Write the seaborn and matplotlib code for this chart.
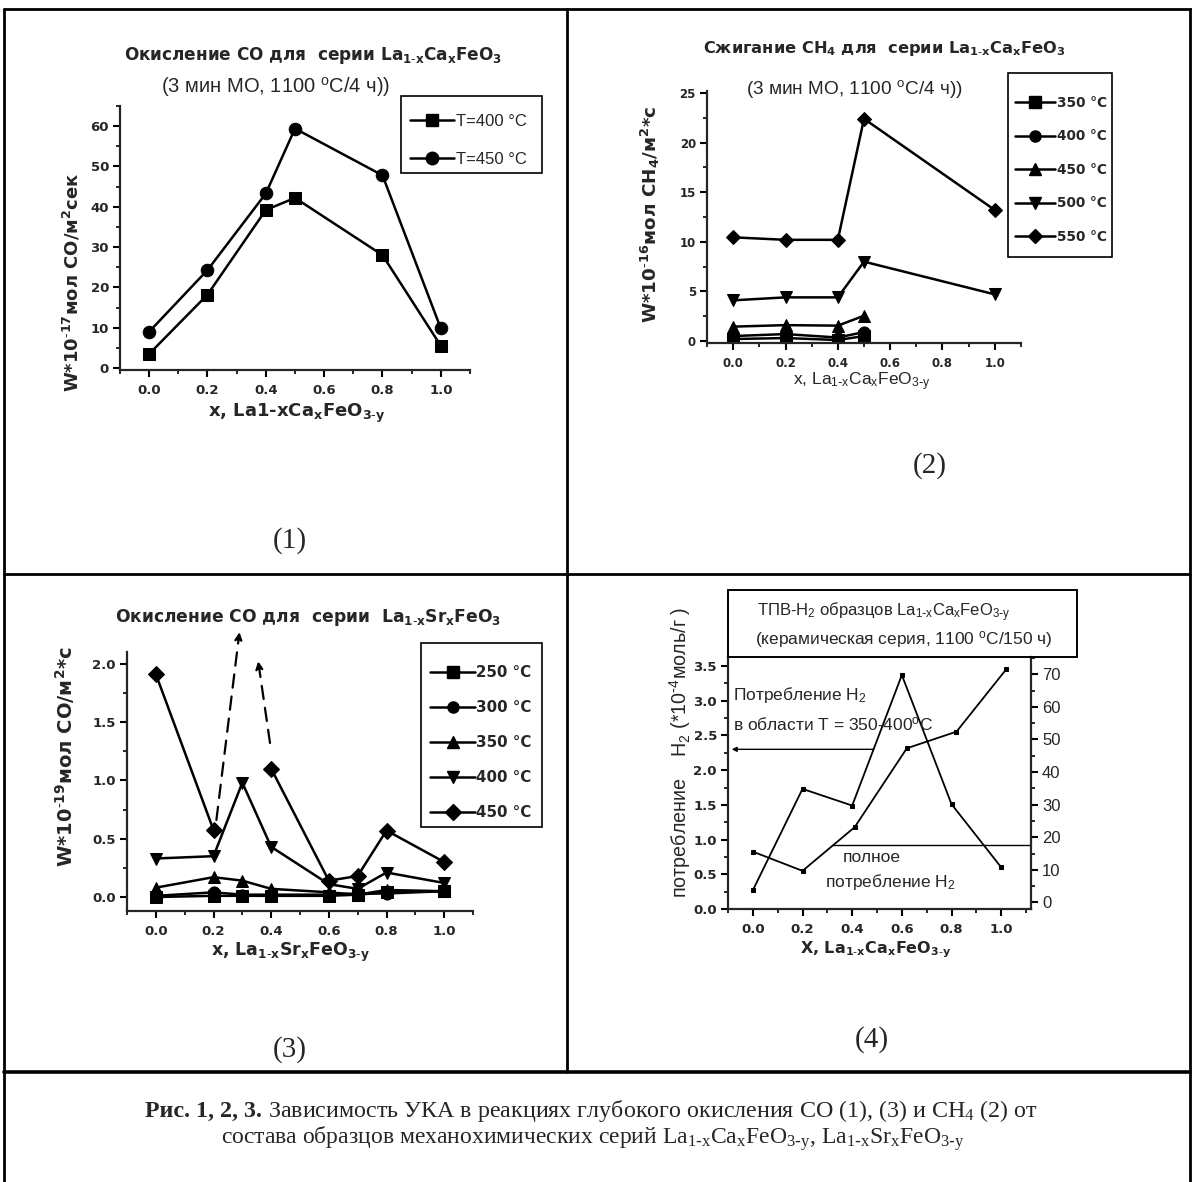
import numpy as np
import pandas as pd
import seaborn as sns
import matplotlib
matplotlib.use("Agg")
import matplotlib.pyplot as plt
from matplotlib.lines import Line2D
from matplotlib.patches import Rectangle
from matplotlib.ticker import MultipleLocator

# ---------------- data ----------------
p1_x = [0.0, 0.2, 0.4, 0.5, 0.8, 1.0]
p1_t400 = [3.5, 18.2, 39.2, 42.2, 28.0, 5.5]
p1_t450 = [9.0, 24.3, 43.3, 59.4, 47.8, 9.8]
p1_labels = ["T=400 °C", "T=450 °C"]

p2_x_short = [0.0, 0.2, 0.4, 0.5]
p2_x_full = [0.0, 0.2, 0.4, 0.5, 1.0]
p2_350 = [0.2, 0.3, 0.1, 0.5]
p2_400 = [0.5, 0.7, 0.35, 0.9]
p2_450 = [1.45, 1.6, 1.55, 2.55]
p2_500 = [4.1, 4.4, 4.4, 8.0, 4.7]
p2_550 = [10.45, 10.2, 10.2, 22.4, 13.2]
p2_labels = ["350 °C", "400 °C", "450 °C", "500 °C", "550 °C"]

p3_x = [0.0, 0.2, 0.3, 0.4, 0.6, 0.7, 0.8, 1.0]
p3_250 = [0.0, 0.01, 0.01, 0.01, 0.01, 0.02, 0.04, 0.05]
p3_300 = [0.01, 0.04, 0.02, 0.02, 0.02, 0.03, 0.03, 0.05]
p3_350 = [0.08, 0.17, 0.14, 0.07, 0.04, 0.02, 0.06, 0.05]
p3_400 = [0.33, 0.35, 0.98, 0.43, 0.11, 0.07, 0.21, 0.12]
p3_450_xa = [0.0, 0.2]
p3_450_a = [1.91, 0.575]
p3_450_xb = [0.4, 0.6, 0.7, 0.8, 1.0]
p3_450_b = [1.10, 0.14, 0.18, 0.57, 0.30]
p3_labels = ["250 °C", "300 °C", "350 °C", "400 °C", "450 °C"]
# off-scale dashed guides (start -> end)
p3_guide1 = [(0.21, 0.66), (0.29, 2.27)]
p3_guide2 = [(0.396, 1.32), (0.355, 2.02)]

p4_x = [0.0, 0.2, 0.4, 0.6, 0.8, 1.0]
p4_low = [0.27, 1.73, 1.49, 3.37, 1.51, 0.60]
p4_full_x = [0.0, 0.2, 0.41, 0.62, 0.82, 1.02]
p4_full = [15.6, 9.7, 23.1, 47.3, 52.4, 71.5]

# ---------------- setup ----------------
sns.set_theme(style="ticks")
plt.rcParams["font.family"] = ["Liberation Sans", "DejaVu Sans"]
plt.rcParams["mathtext.default"] = "regular"
plt.rcParams["axes.linewidth"] = 1.6

BOLD = ["DejaVu Sans"]
NARROW = ["Liberation Sans Narrow", "Liberation Sans", "DejaVu Sans"]
SERIF = ["Liberation Serif", "DejaVu Serif"]
SUB1X = r"$_{1\text{-}x}$"
SUB3Y = r"$_{3\text{-}y}$"


def pow10(n):
    return r"10$^{\text{-}" + str(n) + "}$"


W, H = 1192, 1182
fig = plt.figure(figsize=(W / 100, H / 100), dpi=100)
fig.patch.set_facecolor("white")


def fx(px):
    return px / W


def fy(py):
    return 1 - py / H


def add_ax(x0, y0, x1, y1):
    return fig.add_axes([fx(x0), fy(y1), (x1 - x0) / W, (y1 - y0) / H])


def ftext(x, y, s, **kw):
    kw.setdefault("ha", "center")
    kw.setdefault("va", "center")
    return fig.text(fx(x), fy(y), s, **kw)


def fbox(x0, y0, x1, y1, lw=1.2):
    fig.add_artist(Rectangle((fx(x0), fy(y1)), fx(x1) - fx(x0),
                             fy(y0) - fy(y1), transform=fig.transFigure,
                             fill=False, edgecolor="black", lw=lw))


def style(ax, xmaj, xmin, ymaj, ymin, tsize=9.5):
    ax.set_facecolor("none")
    for s in ["top", "right"]:
        ax.spines[s].set_visible(False)
    ax.xaxis.set_major_locator(MultipleLocator(xmaj))
    ax.xaxis.set_minor_locator(MultipleLocator(xmin))
    ax.yaxis.set_major_locator(MultipleLocator(ymaj))
    ax.yaxis.set_minor_locator(MultipleLocator(ymin))
    ax.tick_params(which="major", direction="out", length=5, width=1.5,
                   labelsize=tsize, pad=3, color="black")
    ax.tick_params(which="minor", direction="out", length=3, width=1.2,
                   color="black")
    ax.tick_params(axis="x", which="major", pad=5)
    for lab in ax.get_xticklabels() + ax.get_yticklabels():
        lab.set_fontweight("bold")
        lab.set_family(BOLD)
    ax.set_xlabel("")
    ax.set_ylabel("")


def line(ax, x, y, marker, ms, lw=1.8):
    sns.lineplot(x=x, y=y, ax=ax, color="black", marker=marker, markersize=ms,
                 markeredgecolor="black", markerfacecolor="black", lw=lw,
                 legend=False)


def handle(marker, ms):
    return Line2D([], [], color="black", marker=marker, markersize=ms, lw=1.8)


def legend(ax, handles, labels, x, y, prop, hl, ls):
    ax.legend(handles, labels, loc="upper left",
              bbox_to_anchor=(fx(x), fy(y)), bbox_transform=fig.transFigure,
              frameon=False, handlelength=hl, labelspacing=ls, borderpad=0,
              handletextpad=0.1, borderaxespad=0, prop=prop)


def fline(x0, y0, x1, y1, lw=2.0):
    fig.add_artist(Line2D([fx(x0), fx(x1)], [fy(y0), fy(y1)],
                          transform=fig.transFigure, color="black", lw=lw))


# ---------------- frame lines ----------------
fline(4, 9, 1191, 9)
fline(4, 9, 4, 1182)
fline(1190, 9, 1190, 1182)
fline(567, 9, 567, 1072)
fline(4, 574, 1190, 574)
fline(4, 1072, 1190, 1072, lw=2.6)

# ---------------- panel 1 ----------------
ax1 = add_ax(120, 106, 470, 370)
line(ax1, p1_x, p1_t400, "s", 9)
line(ax1, p1_x, p1_t450, "o", 9)
ax1.set_xlim(-0.1, 1.1)
ax1.set_ylim(-0.5, 65)
style(ax1, 0.2, 0.1, 10, 5)
legend(ax1, [handle("s", 9), handle("o", 9)], p1_labels, 410, 114,
       {"size": 12}, 2.67, 1.38)
fbox(401, 96, 542, 173)

ftext(313, 55, "Окисление CO для  серии La" + SUB1X + "Ca$_x$FeO$_3$",
      fontsize=12.2, fontweight="bold", family=BOLD)
ftext(276, 87, "(3 мин МО, 1100 $^o$C/4 ч))", fontsize=14.5)
ftext(297, 413, "x, La1-xCa$_x$FeO" + SUB3Y, fontsize=13,
      fontweight="bold", family=BOLD)
ftext(72, 282, "W*" + pow10(17) + "мол CO/м$^2$сек", fontsize=13,
      fontweight="bold", family=BOLD, rotation=90)
ftext(290, 541, "(1)", fontsize=21, family=SERIF)

# ---------------- panel 2 ----------------
ax2 = add_ax(707, 91, 1021, 343)
line(ax2, p2_x_short, p2_350, "s", 8)
line(ax2, p2_x_short, p2_400, "o", 8)
line(ax2, p2_x_short, p2_450, "^", 8.5)
line(ax2, p2_x_full, p2_500, "v", 8.5)
line(ax2, p2_x_full, p2_550, "D", 7.5)
ax2.set_xlim(-0.1, 1.1)
ax2.set_ylim(-0.2, 25.2)
style(ax2, 0.2, 0.1, 5, 2.5, tsize=8.5)
legend(ax2, [handle("s", 8), handle("o", 8), handle("^", 8.5),
             handle("v", 8.5), handle("D", 7.5)], p2_labels, 1015, 96,
       {"weight": "bold", "size": 9.8, "family": BOLD}, 2.95, 1.43)
fbox(1008, 73, 1112, 257)

ftext(884, 48, "Сжигание CH$_4$ для  серии La" + SUB1X + "Ca$_x$FeO$_3$",
      fontsize=11.7, fontweight="bold", family=BOLD)
ftext(854, 89, "(3 мин МО, 1100 $^o$C/4 ч))", fontsize=13.7)
ftext(862, 382, "x, La" + SUB1X + "Ca$_x$FeO" + SUB3Y, fontsize=12.5)
ftext(650, 214, "W*" + pow10(16) + "мол CH$_4$/м$^2$*c", fontsize=13.2,
      fontweight="bold", family=BOLD, rotation=90)
ftext(930, 466, "(2)", fontsize=21, family=SERIF)

# ---------------- panel 3 ----------------
ax3 = add_ax(127, 652, 473, 911)
line(ax3, p3_x, p3_250, "s", 8)
line(ax3, p3_x, p3_300, "o", 8)
line(ax3, p3_x, p3_350, "^", 8.5)
line(ax3, p3_x, p3_400, "v", 8.5)
line(ax3, p3_450_xa, p3_450_a, "D", 8)
line(ax3, p3_450_xb, p3_450_b, "D", 8)
for (s0, s1) in [p3_guide1, p3_guide2]:
    ax3.annotate("", xy=s1, xytext=s0, annotation_clip=False,
                 arrowprops=dict(arrowstyle="-|>", linestyle=(0, (6, 4)),
                                 lw=1.6, color="black", mutation_scale=11,
                                 shrinkA=0, shrinkB=0))
ax3.set_xlim(-0.1, 1.1)
ax3.set_ylim(-0.12, 2.1)
style(ax3, 0.2, 0.1, 0.5, 0.25)
legend(ax3, [handle("s", 8), handle("o", 8), handle("^", 8.5),
             handle("v", 8.5), handle("D", 8)], p3_labels, 430, 665,
       {"weight": "bold", "size": 10.8, "family": BOLD}, 3.0, 1.33)
fbox(421, 643, 542, 827)

ftext(308, 618, "Окисление CO для  серии  La" + SUB1X + "Sr$_x$FeO$_3$",
      fontsize=12.3, fontweight="bold", family=BOLD)
ftext(290, 952, "x, La" + SUB1X + "Sr$_x$FeO" + SUB3Y, fontsize=12.5,
      fontweight="bold", family=BOLD)
ftext(65, 757, "W*" + pow10(19) + "мол CO/м$^2$*c", fontsize=14,
      fontweight="bold", family=BOLD, rotation=90)
ftext(290, 1050, "(3)", fontsize=21, family=SERIF)

# ---------------- panel 4 ----------------
ax4 = add_ax(728, 657, 1031, 909)
line(ax4, p4_x, p4_low, "s", 3.5, lw=1.3)
ax4.set_xlim(-0.1, 1.12)
ax4.set_ylim(0, 3.63)
style(ax4, 0.2, 0.1, 0.5, 0.25)
ax4b = ax4.twinx()
line(ax4b, p4_full_x, p4_full, "s", 3.5, lw=1.3)
ax4b.set_ylim(-2, 75.3)
ax4b.set_xlim(-0.1, 1.12)
ax4b.set_facecolor("none")
ax4b.spines["top"].set_visible(False)
ax4b.spines["left"].set_visible(False)
ax4b.spines["bottom"].set_visible(False)
ax4b.yaxis.set_major_locator(MultipleLocator(10))
ax4b.yaxis.set_minor_locator(MultipleLocator(5))
ax4b.tick_params(which="major", direction="out", length=5, width=1.5,
                 labelsize=12, pad=3, color="black")
ax4b.tick_params(which="minor", direction="out", length=3, width=1.2,
                 color="black")
for lab in ax4b.get_yticklabels():
    lab.set_family(NARROW)
ax4b.set_ylabel("")
ax4.spines["right"].set_visible(False)

ax4.annotate("", xy=(-0.085, 2.3), xytext=(0.486, 2.3),
             arrowprops=dict(arrowstyle="-|>", lw=1.0, color="black",
                             mutation_scale=7, shrinkA=0, shrinkB=0))
ax4b.plot([0.32, 1.12], [17.6, 17.6], color="black", lw=1.0, clip_on=False)

fbox(728, 590, 1077, 657, lw=1.4)
ftext(884, 612, "ТПВ-H$_2$ образцов La" + SUB1X + "Ca$_x$FeO" + SUB3Y,
      fontsize=12, family=NARROW)
ftext(904, 640, "(керамическая серия, 1100 $^o$C/150 ч)", fontsize=12.5,
      family=NARROW)
ftext(733, 695, "Потребление H$_2$", fontsize=12.5, family=NARROW, ha="left")
ftext(733, 725, "в области T = 350-400$^o$C", fontsize=12.5, family=NARROW,
      ha="left")
ftext(872, 857, "полное", fontsize=12.5, family=NARROW)
ftext(825, 882, "потребление H$_2$", fontsize=12.5, family=NARROW, ha="left")
ftext(876, 950, "X, La" + SUB1X + "Ca$_x$FeO" + SUB3Y, fontsize=11.5,
      fontweight="bold", family=BOLD)
ftext(680, 752, "потребление    H$_2$ (*" + pow10(4) + "моль/г )",
      fontsize=14.2, family=NARROW, rotation=90)
ftext(872, 1040, "(4)", fontsize=21, family=SERIF)

# ---------------- caption ----------------
t_b = fig.text(fx(145), fy(1117), "Рис. 1, 2, 3.", fontsize=17.3,
               fontweight="bold", family=SERIF, ha="left", va="baseline")
fig.canvas.draw()
bb = t_b.get_window_extent()
fig.text(bb.x1 / W, fy(1117),
         " Зависимость УКА в реакциях глубокого окисления CO (1), (3) и CH$_4$ (2) от",
         fontsize=17.3, family=SERIF, ha="left", va="baseline")
ftext(593, 1144, "состава образцов механохимических серий La" + SUB1X +
      "Ca$_x$FeO" + SUB3Y + ", La" + SUB1X + "Sr$_x$FeO" + SUB3Y,
      fontsize=17, family=SERIF, va="baseline")

fig.savefig("out.png", dpi=100, facecolor="white")
